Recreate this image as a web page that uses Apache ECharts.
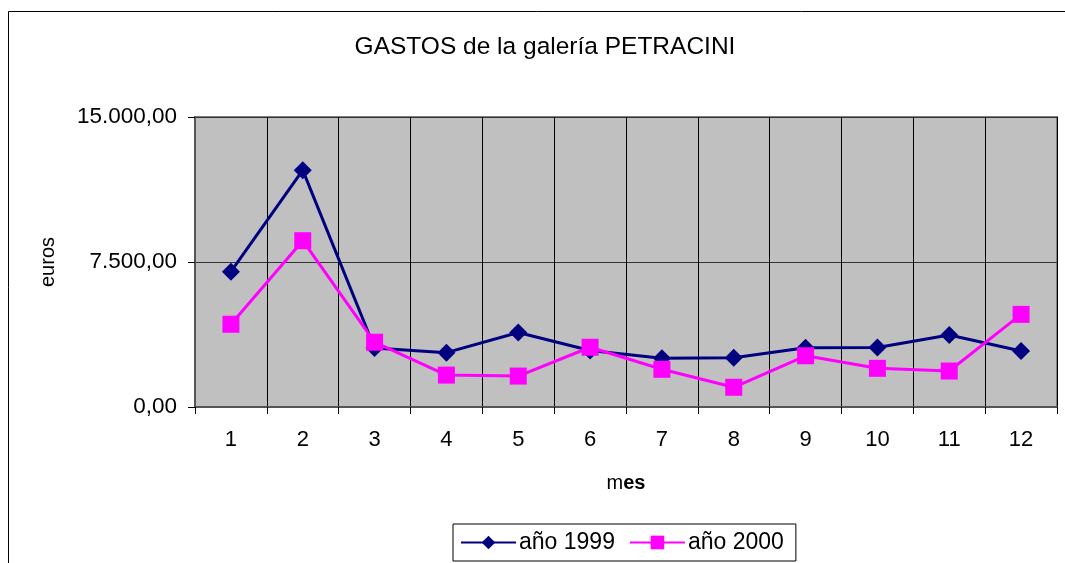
<!DOCTYPE html>
<html>
<head>
<meta charset="utf-8">
<script src="https://cdn.jsdelivr.net/npm/echarts@6/dist/echarts.min.js"></script>
<style>
  html, body { margin: 0; padding: 0; background: #fff; }
  #main { width: 1065px; height: 563px; }
</style>
</head>
<body>
<div id="main"></div>
<script>
// meses
const meses = ['1', '2', '3', '4', '5', '6', '7', '8', '9', '10', '11', '12'];
// gastos por mes (euros)
const gastos1999 = [7000, 12250, 3050, 2810, 3850, 2920, 2520, 2550, 3070, 3080, 3720, 2900];
const gastos2000 = [4280, 8600, 3350, 1650, 1600, 3090, 1950, 1020, 2650, 2000, 1860, 4790];
const ticksY = [0, 7500, 15000];

const fuente = '"Liberation Sans", Arial, sans-serif';

// formato europeo: 15.000,00
const formato = (v) => {
    const entero = Math.floor(v).toString().replace(/\B(?=(\d{3})+(?!\d))/g, '.');
    return entero + ',00';
};

const myChart = echarts.init(document.getElementById('main'));

myChart.setOption({
    animation: false,
    textStyle: { fontFamily: fuente },
    title: {
        text: 'GASTOS de la galería PETRACINI',
        left: 540,
        textAlign: 'center',
        top: 30,
        textStyle: { fontSize: 24.5, fontWeight: 'normal', color: '#000', fontFamily: fuente }
    },
    graphic: [{
        type: 'rect',
        shape: { x: 8.5, y: 11.5, width: 1100, height: 600 },
        style: { fill: 'none', stroke: '#000', lineWidth: 1 },
        silent: true
    }],
    legend: {
        left: 453,
        top: 524,
        padding: [7, 12, 7, 7],
        itemGap: 14,
        itemWidth: 55,
        itemHeight: 17,
        borderColor: '#000',
        borderWidth: 1,
        textStyle: { fontSize: 23, color: '#000', fontFamily: fuente, padding: [0, 0, 0, -2] },
        data: ['año 1999', 'año 2000']
    },
    grid: {
        left: 195,
        right: 8,
        top: 117,
        bottom: 156,
        show: true,
        backgroundColor: '#C0C0C0',
        borderColor: '#808080',
        borderWidth: 2
    },
    xAxis: {
        type: 'category',
        data: meses,
        boundaryGap: true,
        name: '{a|m}{b|es}',
        nameLocation: 'middle',
        nameGap: 66,
        nameTextStyle: {
            rich: {
                a: { fontSize: 20, color: '#000', fontFamily: fuente },
                b: { fontSize: 20, color: '#000', fontWeight: 'bold', fontFamily: fuente }
            }
        },
        axisLine: { lineStyle: { color: '#555', width: 2 } },
        axisTick: { show: true, length: 7, lineStyle: { color: '#000' } },
        axisLabel: { fontSize: 22, color: '#000', margin: 22, fontFamily: fuente },
        splitLine: { show: true, lineStyle: { color: '#000', width: 1 } }
    },
    yAxis: {
        type: 'value',
        min: ticksY[0],
        max: ticksY[ticksY.length - 1],
        interval: ticksY[1] - ticksY[0],
        name: 'euros',
        nameLocation: 'middle',
        nameGap: 137,
        nameRotate: 90,
        nameTextStyle: { fontSize: 20, color: '#000', fontFamily: fuente },
        axisLine: { show: true, lineStyle: { color: '#555', width: 2 } },
        axisTick: { show: true, length: 7, lineStyle: { color: '#000' } },
        axisLabel: { fontSize: 22.5, color: '#000', margin: 18, fontFamily: fuente, formatter: formato },
        splitLine: { show: true, lineStyle: { color: '#333', width: 1 } }
    },
    series: [
        {
            name: 'año 1999',
            type: 'line',
            data: gastos1999,
            symbol: 'diamond',
            symbolSize: 18,
            color: '#000080',
            lineStyle: { color: '#000080', width: 3 },
            itemStyle: { color: '#000080' },
            z: 2
        },
        {
            name: 'año 2000',
            type: 'line',
            data: gastos2000,
            symbol: 'rect',
            symbolSize: 17,
            color: '#FF00FF',
            lineStyle: { color: '#FF00FF', width: 3 },
            itemStyle: { color: '#FF00FF' },
            z: 3
        }
    ]
});
</script>
</body>
</html>
